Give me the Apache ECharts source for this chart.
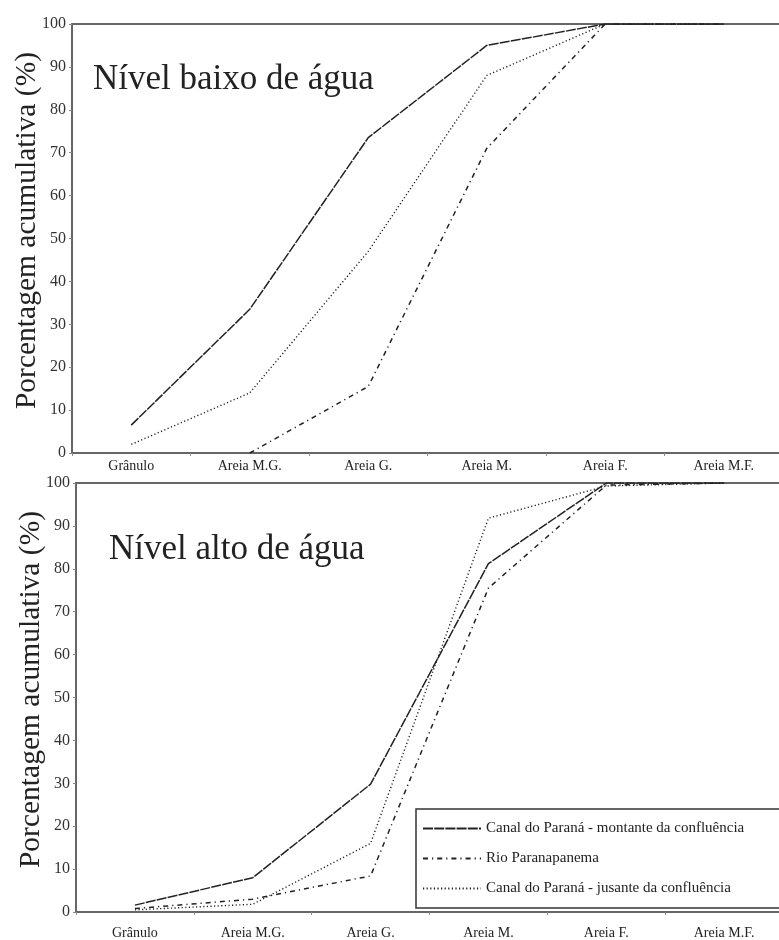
<!DOCTYPE html>
<html>
<head>
<meta charset="utf-8">
<script src="https://cdn.jsdelivr.net/npm/echarts@6/dist/echarts.min.js"></script>
<style>
html,body{margin:0;padding:0;background:#fff;}
#c{width:779px;height:940px;}
</style>
</head>
<body>
<div id="c"></div>
<script>
var categories = ['Grânulo', 'Areia M.G.', 'Areia G.', 'Areia M.', 'Areia F.', 'Areia M.F.'];
var seriesNames = ['Canal do Paraná - montante da confluência', 'Rio Paranapanema', 'Canal do Paraná - jusante da confluência'];
var panelTitles = ['Nível baixo de água', 'Nível alto de água'];
var yAxisName = 'Porcentagem acumulativa (%)';

// Nível baixo de água
var lowMontante = [6.5, 33.5, 73.5, 95, 100, 100];
var lowParanapanema = [null, 0, 15.5, 71, 100, 100];
var lowJusante = [2, 14, 47, 88, 100, 100];

// Nível alto de água
var highMontante = [1.6, 8, 29.8, 81.2, 100, 100];
var highParanapanema = [0.8, 3, 8.4, 75.5, 99.5, 100];
var highJusante = [0.5, 1.8, 16, 91.8, 99.3, 100];

var serif = '"Liberation Serif", "Times New Roman", serif';
var ink = '#222';
var styles = [
  {type: [10, 1.2], width: 1.5},
  {type: [5, 4, 1.2, 4], width: 1.5},
  {type: [1.2, 2.4], width: 1.4}
];

function makeX(gi) {
  return {
    type: 'category', gridIndex: gi, data: categories, boundaryGap: true,
    axisLine: {show: true, lineStyle: {color: '#666', width: 2}},
    axisTick: {show: true, length: 3, inside: false, lineStyle: {color: '#888'}},
    axisLabel: {fontFamily: serif, fontSize: 14, color: ink, margin: gi === 0 ? 6 : 14},
    splitLine: {show: false}
  };
}
function makeY(gi) {
  return {
    type: 'value', gridIndex: gi, min: 0, max: 100, interval: 10,
    name: yAxisName, nameLocation: 'middle', nameGap: 30, nameMoveOverlap: false,
    nameTextStyle: {fontFamily: serif, fontSize: 29.5, color: ink, padding: [0, 0, 0, 16]},
    axisLine: {show: true, lineStyle: {color: '#666', width: 2}},
    axisTick: {show: true, length: 3, lineStyle: {color: '#888'}},
    axisLabel: {fontFamily: serif, fontSize: 16, color: '#333', margin: 6},
    splitLine: {show: false}
  };
}
function makeSeries(name, data, gi, si) {
  return {
    name: name, type: 'line', xAxisIndex: gi, yAxisIndex: gi, data: data,
    symbol: 'none', smooth: false, connectNulls: false,
    lineStyle: {color: ink, width: styles[si].width, type: styles[si].type},
    itemStyle: {color: ink},
    emphasis: {disabled: true}
  };
}

var chart = echarts.init(document.getElementById('c'), null, {renderer: 'canvas'});
chart.setOption({
  animation: false,
  backgroundColor: '#fff',
  title: [
    {text: panelTitles[0], left: 88, top: 57, textStyle: {fontFamily: serif, fontSize: 35, fontWeight: 'normal', color: ink}},
    {text: panelTitles[1], left: 104, top: 527, textStyle: {fontFamily: serif, fontSize: 35, fontWeight: 'normal', color: ink}}
  ],
  grid: [
    {left: 72, top: 24, width: 711, height: 429, show: true, borderColor: '#666', borderWidth: 2, backgroundColor: 'transparent', containLabel: false, outerBoundsMode: 'none'},
    {left: 76, top: 483, width: 707, height: 429, show: true, borderColor: '#666', borderWidth: 2, backgroundColor: 'transparent', containLabel: false, outerBoundsMode: 'none'}
  ],
  legend: {
    show: true, orient: 'vertical', left: 416, top: 809,
    data: seriesNames,
    itemWidth: 58, itemHeight: 14, itemGap: 15,
    padding: [12, 60, 12, 6],
    backgroundColor: '#fff', borderColor: '#333', borderWidth: 1.5, borderRadius: 0,
    textStyle: {fontFamily: serif, fontSize: 15, color: ink},
    itemStyle: {opacity: 0},
    selectedMode: false
  },
  xAxis: [makeX(0), makeX(1)],
  yAxis: [makeY(0), makeY(1)],
  series: [
    makeSeries(seriesNames[0], lowMontante, 0, 0),
    makeSeries(seriesNames[1], lowParanapanema, 0, 1),
    makeSeries(seriesNames[2], lowJusante, 0, 2),
    makeSeries(seriesNames[0], highMontante, 1, 0),
    makeSeries(seriesNames[1], highParanapanema, 1, 1),
    makeSeries(seriesNames[2], highJusante, 1, 2)
  ]
});
</script>
</body>
</html>
